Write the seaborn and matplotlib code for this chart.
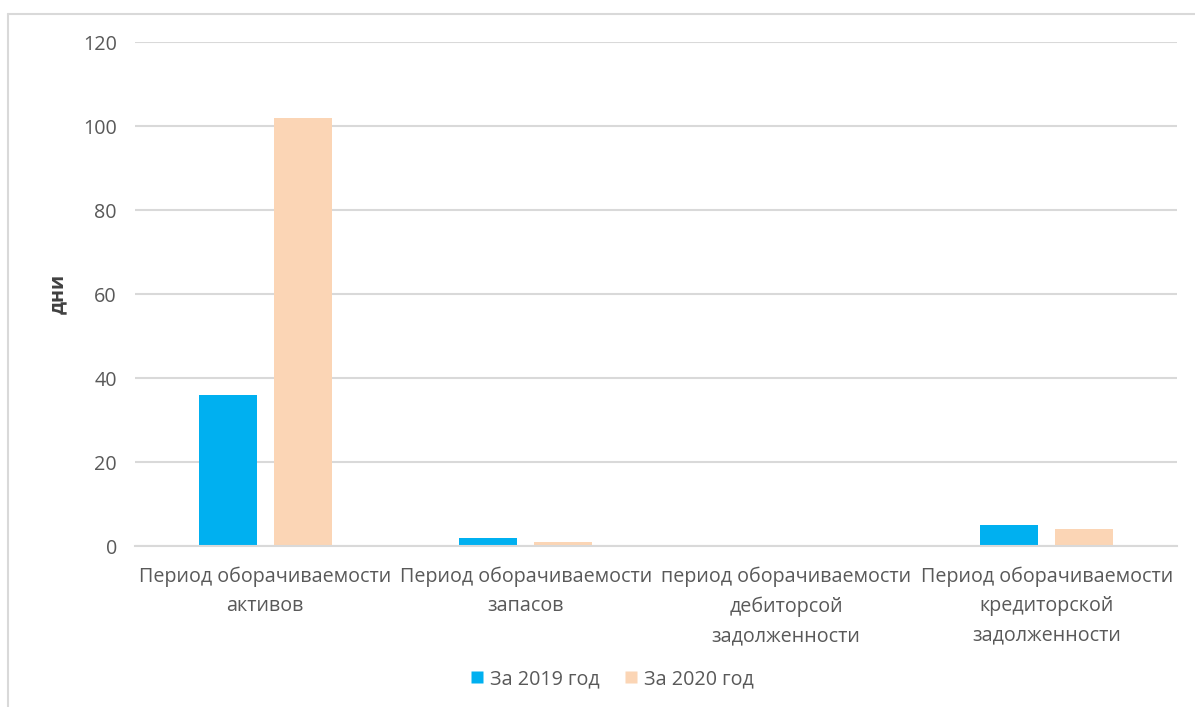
import matplotlib
matplotlib.use("Agg")
import matplotlib.pyplot as plt
from matplotlib.lines import Line2D
import seaborn as sns
import pandas as pd

# Turnover periods, days
categories = [
    "Период оборачиваемости\nактивов",
    "Период оборачиваемости\nзапасов",
    "период оборачиваемости\nдебиторсой\nзадолженности",
    "Период оборачиваемости\nкредиторской\nзадолженности",
]
series_names = ["За 2019 год", "За 2020 год"]
values_2019 = [36, 2, 0, 5]
values_2020 = [102, 1, 0, 4]
y_ticks = [0, 20, 40, 60, 80, 100, 120]
y_label = "дни"

colors = ["#00B0F0", "#FBD5B5"]
text_color = "#595959"
grid_color = "#D9D9D9"
fs = 14.2

sns.set_theme(style="white")
plt.rcParams["font.family"] = ["Open Sans", "DejaVu Sans"]

df = pd.DataFrame({
    "category": categories * 2,
    "series": [series_names[0]] * len(categories) + [series_names[1]] * len(categories),
    "value": values_2019 + values_2020,
})

fig = plt.figure(figsize=(11.95, 7.07), dpi=100)
ax = fig.add_axes([135 / 1195, 1 - 546 / 707, (1177 - 135) / 1195, (546 - 42) / 707])

sns.barplot(data=df, x="category", y="value", hue="series", order=categories,
            hue_order=series_names, palette=colors, width=0.577, gap=0.227,
            saturation=1, edgecolor="none", linewidth=0, ax=ax, legend=False,
            errorbar=None)

ax.set_ylim(0, 120)
ax.set_yticks(y_ticks)
ax.set_xlim(-0.5, len(categories) - 0.5)
ax.yaxis.grid(True, color=grid_color, linewidth=1.5)
ax.set_axisbelow(True)
for side in ["left", "right", "top"]:
    ax.spines[side].set_visible(False)
ax.spines["bottom"].set_color(grid_color)
ax.spines["bottom"].set_linewidth(1.5)
ax.tick_params(axis="both", length=0, colors=text_color, labelsize=fs)
ax.tick_params(axis="y", pad=13)
ax.tick_params(axis="x", pad=15)
for lbl in ax.get_xticklabels():
    lbl.set_linespacing(1.6)
ax.set_xlabel("")
ax.set_ylabel(y_label, color="#404040", fontsize=fs, fontweight="bold")
ax.yaxis.set_label_coords(-0.064, 0.5)

handles = [Line2D([0], [0], marker="s", linestyle="none", markersize=9,
                  markerfacecolor=c, markeredgecolor="none") for c in colors]
fig.legend(handles, series_names, loc="center", bbox_to_anchor=(0.512, 1 - 679 / 707),
           ncol=2, frameon=False, fontsize=fs, labelcolor=text_color,
           handlelength=0.7, handletextpad=0.3, columnspacing=1.25)

# Chart frame
fig.add_artist(Line2D([8 / 1195, 1], [1 - 14 / 707] * 2, color=grid_color, linewidth=1.5,
                      transform=fig.transFigure))
fig.add_artist(Line2D([8 / 1195] * 2, [0, 1 - 14 / 707], color=grid_color, linewidth=1.5,
                      transform=fig.transFigure))

fig.savefig("out.png", dpi=100)
